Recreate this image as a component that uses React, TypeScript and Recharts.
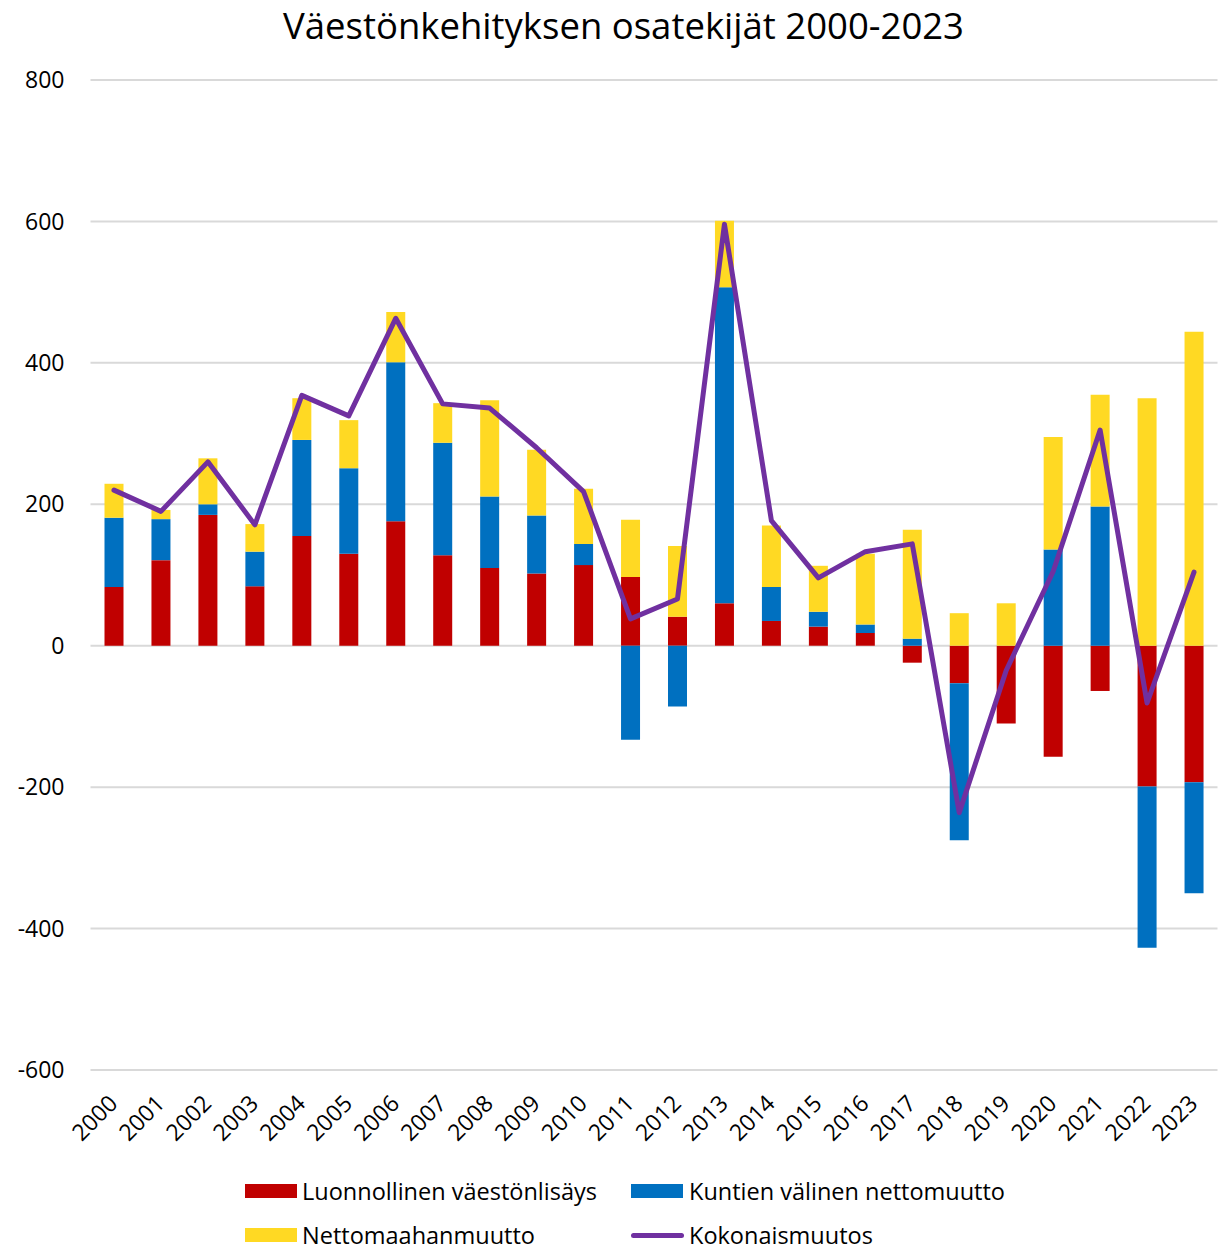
import React from 'react';
import { ComposedChart, Bar, Line, XAxis, YAxis, CartesianGrid, Legend } from 'recharts';

const years = ['2000','2001','2002','2003','2004','2005','2006','2007','2008','2009','2010','2011','2012','2013','2014','2015','2016','2017','2018','2019','2020','2021','2022','2023'];
const natural = [83,121,185,84,155,130,176,128,110,102,114,97,41,60,35,27,18,-24,-53,-110,-157,-64,-199,-193];
const municipal = [98,58,15,49,136,121,225,159,101,82,30,-133,-86,447,48,21,12,10,-222,0,136,197,-228,-157];
const immigration = [48,13,65,39,59,68,71,56,136,93,78,81,100,94,87,65,100,154,46,60,159,158,350,444];
const total = [220,190,260,171,354,325,463,342,336,280,218,38,66,596,177,96,133,144,-236,-35,105,305,-81,104];
const yTicks = [-600,-400,-200,0,200,400,600,800];

const seriesNames = {
  natural: 'Luonnollinen väestönlisäys',
  municipal: 'Kuntien välinen nettomuutto',
  immigration: 'Nettomaahanmuutto',
  total: 'Kokonaismuutos',
};
const legendOrder = ['natural', 'municipal', 'immigration', 'total'];

const data = years.map((y, i) => ({
  year: y,
  natural: natural[i],
  municipal: municipal[i],
  immigration: immigration[i],
  total: total[i],
}));

const FONT = '"Open Sans", sans-serif';

const XTick = (props: any) => {
  const { x, y, payload } = props;
  const ax = x + 5;
  const ay = y + 27;
  return (
    <text x={ax} y={ay} transform={`rotate(-45, ${ax}, ${ay})`} textAnchor="end" fontSize={23} fontFamily={FONT} fill="#000">
      {payload.value}
    </text>
  );
};

const renderLegend = (props: any) => {
  const payload: any[] = props.payload || [];
  const sorted = legendOrder
    .map((k) => payload.find((p: any) => p.dataKey === k))
    .filter(Boolean);
  return (
    <div style={{ position: 'relative', width: 1223, height: 81, fontFamily: FONT, fontSize: 23.5, color: '#000' }}>
      {sorted.map((p: any, i: number) => {
        const col = i % 2;
        const row = Math.floor(i / 2);
        const iconX = col === 0 ? 245 : 631;
        const textX = col === 0 ? 302 : 689;
        const cy = row === 0 ? 21 : 65;
        const isLine = p.type === 'line';
        return (
          <React.Fragment key={i}>
            {isLine ? (
              <div style={{ position: 'absolute', left: iconX, top: cy - 2.5, width: 53, height: 5, borderRadius: 3, background: p.color }} />
            ) : (
              <div style={{ position: 'absolute', left: iconX, top: cy - 7, width: 52, height: 14, background: p.color }} />
            )}
            <div style={{ position: 'absolute', left: textX, top: cy - 16, lineHeight: '32px', whiteSpace: 'nowrap' }}>{p.value}</div>
          </React.Fragment>
        );
      })}
    </div>
  );
};

export default function App() {
  return (
    <div style={{ position: 'absolute', left: 0, top: 0, width: 1223, height: 1251, background: '#fff' }}>
      <div style={{ position: 'absolute', left: 24, top: 0, width: 1199, textAlign: 'center', fontFamily: FONT, fontSize: 36.5, lineHeight: '50px', color: '#000' }}>
        Väestönkehityksen osatekijät 2000-2023
      </div>
      <ComposedChart
        width={1223}
        height={1251}
        data={data}
        stackOffset="sign"
        margin={{ top: 80, right: 5.5, bottom: 0, left: 0 }}
        barSize={19}
      >
        <CartesianGrid vertical={false} stroke="#D9D9D9" strokeWidth={2} />
        <XAxis dataKey="year" height={181} tick={<XTick />} tickLine={false} axisLine={false} interval={0} />
        <YAxis
          width={90.5}
          domain={[-600, 800]}
          ticks={yTicks}
          tickLine={false}
          axisLine={false}
          tickMargin={20}
          tick={{ fontSize: 23, fontFamily: FONT, fill: '#000' }}
          interval={0}
        />
        <Bar dataKey="natural" name={seriesNames.natural} stackId="a" fill="#C00000" isAnimationActive={false} />
        <Bar dataKey="municipal" name={seriesNames.municipal} stackId="a" fill="#0070C0" isAnimationActive={false} />
        <Bar dataKey="immigration" name={seriesNames.immigration} stackId="a" fill="#FFD923" isAnimationActive={false} />
        <Line dataKey="total" name={seriesNames.total} type="linear" stroke="#7030A0" strokeWidth={5} dot={false} strokeLinejoin="round" strokeLinecap="round" isAnimationActive={false} />
        <Legend
          layout="horizontal"
          verticalAlign="middle"
          align="center"
          wrapperStyle={{ top: 1170, left: 0, width: 1223, height: 81 }}
          content={renderLegend}
        />
      </ComposedChart>
    </div>
  );
}
